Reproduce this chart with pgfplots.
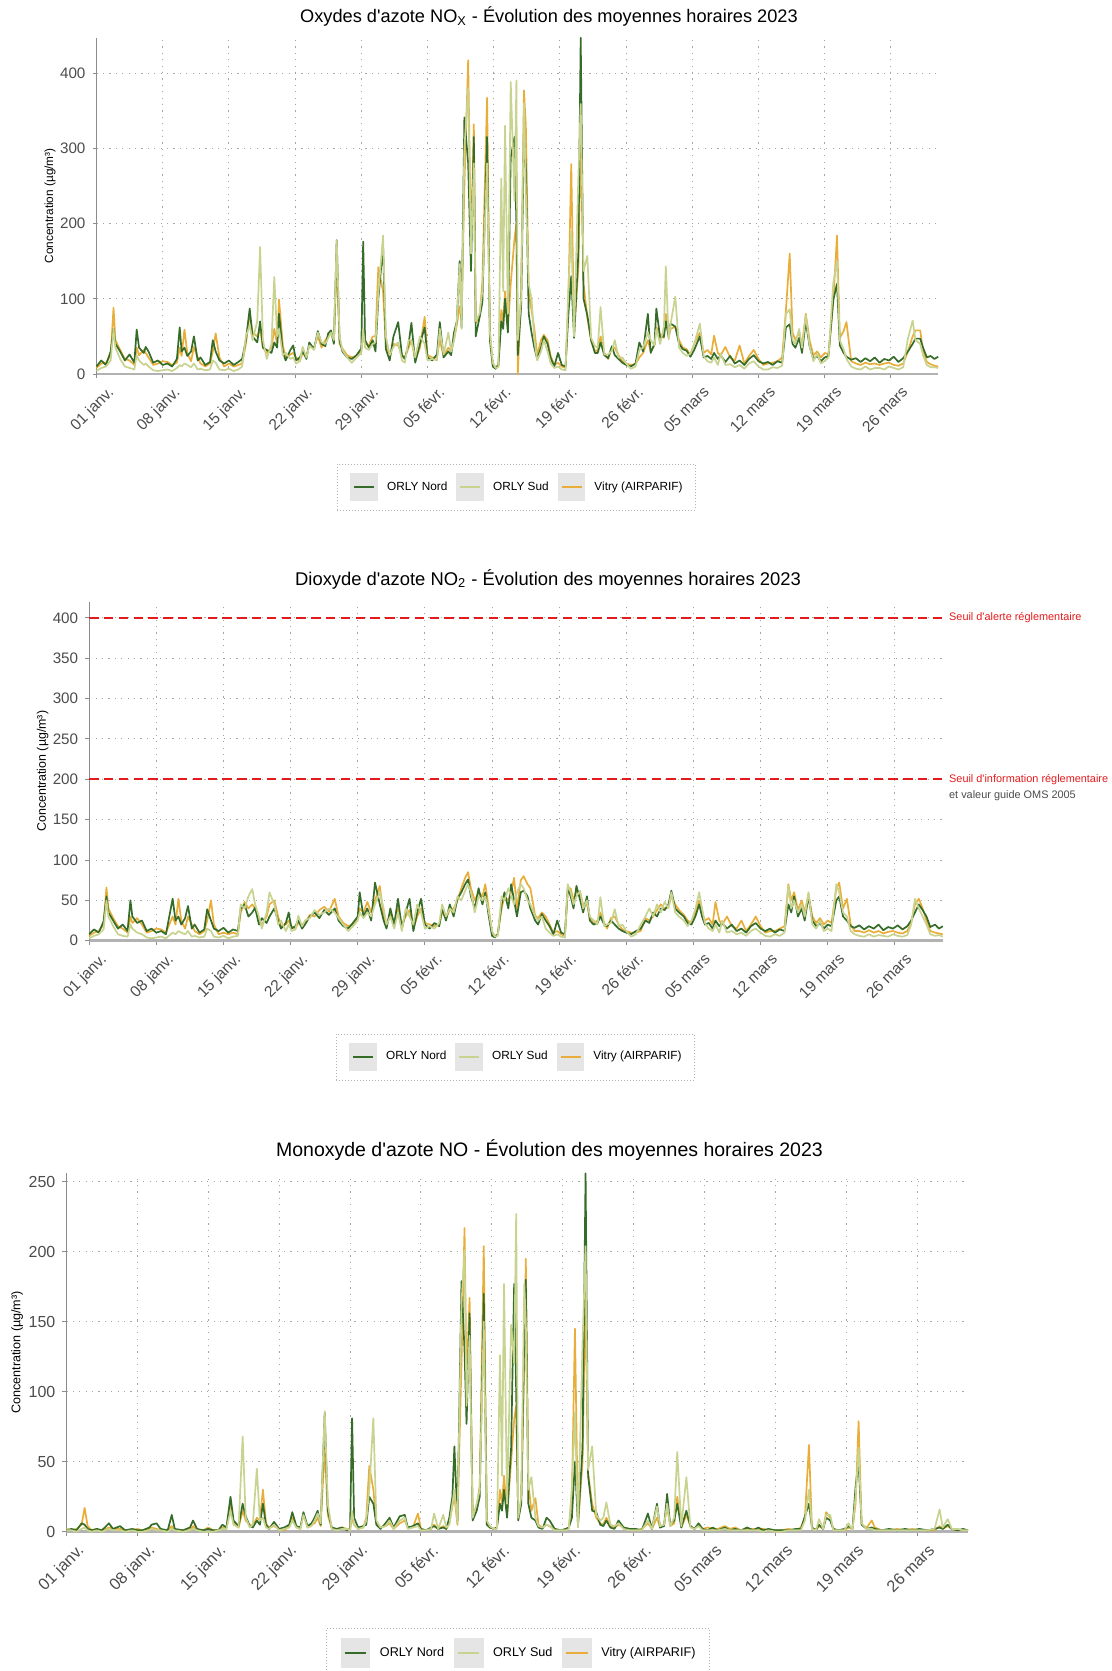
\documentclass[border=0pt]{standalone}
\usepackage{pgfplots}
\usepackage{pgfplotstable}
\pgfplotsset{compat=1.18}
\usepackage{fontspec}
\setmainfont{Liberation Sans}[Ligatures=TeXOff]
\definecolor{cnord}{RGB}{52,108,40}
\definecolor{csud}{RGB}{201,211,144}
\definecolor{cvitry}{RGB}{233,174,58}
\definecolor{cred}{RGB}{228,26,28}

% day  nord  sud  vitry
\pgfplotstableread{
d n s v
0.0 10 4 8
0.5 18 8 14
1.0 12 10 15
1.5 30 18 25
1.8 60 60 88
2.0 40 35 45
2.5 30 20 32
3.0 18 10 20
3.5 26 8 18
4.0 15 6 12
4.25 59 25 35
4.5 35 18 25
5.0 28 12 32
5.2 36 14 28
5.5 30 10 22
6.0 15 5 12
6.5 18 4 14
7.0 12 5 17
7.5 14 6 16
8.0 10 4 12
8.5 20 8 15
8.8 62 12 35
9.0 30 10 24
9.3 35 14 59
9.6 24 12 28
10.0 30 9 17
10.3 50 14 36
10.7 18 6 22
11.0 22 7 14
11.5 12 5 10
12.0 16 6 14
12.3 45 18 30
12.6 30 15 54
13.0 18 6 22
13.5 14 5 10
14.0 18 7 14
14.5 12 4 10
15.0 16 6 12
15.4 20 10 14
15.8 45 50 40
16.2 87 65 80
16.5 50 45 55
17.0 42 70 50
17.3 70 169 60
17.6 35 45 35
18.0 32 20 28
18.5 28 40 35
18.8 42 129 60
19.1 35 50 40
19.3 80 60 99
19.7 30 25 38
20.0 18 28 22
20.5 32 20 26
20.8 38 22 28
21.1 18 14 22
21.5 22 17 17
21.8 30 36 28
22.2 20 22 24
22.5 42 38 38
23.0 33 32 35
23.4 57 55 50
23.8 40 42 35
24.2 37 40 45
24.5 54 48 50
24.8 58 55 55
25.1 40 45 42
25.4 178 178 150
25.7 45 50 40
26.0 30 32 34
26.5 22 22 25
27.0 20 15 22
27.5 25 22 24
28.0 34 28 30
28.2 176 60 55
28.4 45 35 40
28.8 35 32 38
29.2 45 40 50
29.5 30 42 50
29.8 100 107 142
30.3 170 184 110
30.6 33 50 38
31.0 18 25 22
31.4 50 36 40
31.9 69 42 38
32.3 25 18 25
32.6 20 15 22
33.0 40 45 35
33.3 68 45 45
33.7 15 22 18
34.2 40 50 35
34.7 62 40 76
35.0 22 18 25
35.5 18 20 22
36.0 26 18 22
36.3 69 60 45
36.7 22 26 24
37.2 30 55 35
37.5 25 30 30
37.8 55 45 45
38.1 70 70 65
38.4 150 146 90
38.6 62 60 72
38.9 341 300 250
39.3 280 380 417
39.6 137 160 170
39.9 315 280 332
40.1 50 70 68
40.5 75 80 75
40.8 95 110 122
41.3 315 280 367
41.6 45 55 55
41.9 10 15 14
42.2 7 8 9
42.5 12 9 12
42.8 70 260 85
43.0 60 110 70
43.2 100 330 110
43.5 55 80 60
43.8 288 388 120
44.2 315 230 180
44.4 200 390 200
44.55 25 45 0
44.9 90 100 110
45.2 319 360 377
45.4 275 240 330
45.7 80 120 110
46.0 55 100 85
46.3 35 45 60
46.6 20 18 25
47.0 35 30 45
47.3 50 45 52
47.7 40 30 45
48.0 22 15 25
48.4 10 8 12
48.8 28 10 15
49.2 12 6 10
49.6 10 5 8
49.9 80 115 100
50.2 130 190 279
50.5 48 50 56
50.95 160 261 140
51.2 447 359 310
51.5 100 137 120
51.9 78 157 75
52.3 45 48 44
52.7 28 37 30
53.0 28 35 32
53.3 42 89 50
53.7 25 26 28
54.1 21 26 20
54.5 37 31 36
54.8 25 45 35
55.2 20 22 25
55.6 15 22 17
56.0 12 14 14
56.5 10 7 12
57.0 14 10 13
57.4 42 32 22
57.8 30 35 28
58.3 80 55 45
58.6 28 45 30
59.0 40 38 38
59.2 87 60 62
59.6 48 40 52
60.0 50 63 48
60.2 70 143 80
60.5 50 46 48
60.7 67 66 60
61.2 63 103 63
61.6 40 35 45
62.0 33 28 35
62.4 31 24 33
62.8 23 27 25
63.2 32 40 40
63.8 50 67 55
64.2 22 24 28
64.6 24 17 32
65.0 20 15 26
65.3 28 22 51
65.7 20 12 28
66.0 25 27 25
66.5 16 12 36
67.0 24 13 22
67.5 14 9 18
68.0 18 12 38
68.5 12 7 14
69.0 20 14 24
69.5 25 17 32
70.0 17 10 20
70.5 14 6 12
71.0 16 6 14
71.5 12 9 15
72.0 17 8 17
72.5 15 11 22
72.9 62 80 85
73.3 66 86 160
73.6 40 45 55
73.9 35 40 45
74.3 48 60 55
74.6 28 35 38
75.0 70 78 80
75.4 37 38 45
75.8 20 17 25
76.2 24 27 30
76.6 17 14 22
77.0 22 17 28
77.4 24 22 26
77.9 98 120 95
78.3 120 150 184
78.6 38 45 48
79.0 28 33 57
79.3 23 20 69
79.8 19 10 17
80.3 21 7 14
80.8 16 6 12
81.3 21 10 15
81.8 17 6 13
82.3 22 8 14
82.8 15 8 12
83.3 20 6 14
83.8 18 10 15
84.3 23 8 12
84.8 16 6 11
85.3 21 9 14
85.8 30 47 30
86.3 40 71 50
86.6 47 45 58
87.1 47 40 58
87.4 35 25 30
87.8 22 12 16
88.2 24 9 13
88.6 20 9 11
89.0 23 8 10
}\noxtable

\pgfplotstableread{
d n s v
0.0 8 3 6
0.5 14 6 10
1.0 10 8 12
1.5 24 14 20
1.8 55 50 66
2.0 35 30 40
2.5 25 18 28
3.0 15 8 18
3.5 20 6 15
4.0 12 5 10
4.3 50 20 30
4.5 30 15 22
5.0 22 10 28
5.5 25 8 20
6.0 12 4 10
6.5 15 3 12
7.0 10 4 15
7.5 12 5 14
8.0 8 3 10
8.7 52 10 30
9.0 25 8 20
9.3 30 12 52
9.6 20 10 25
10.0 28 8 15
10.3 43 12 30
10.7 15 5 20
11.0 20 6 12
11.5 10 4 8
12.0 14 5 12
12.3 39 15 25
12.7 25 12 50
13.0 15 5 20
13.5 12 4 8
14.0 16 6 10
14.5 10 3 8
15.0 14 5 10
15.5 12 6 8
15.8 40 45 35
16.2 45 40 48
16.6 30 55 40
17.0 35 64 45
17.3 41 45 40
17.7 20 30 25
18.0 28 15 20
18.5 22 35 30
18.8 30 60 45
19.3 40 45 50
19.7 25 20 30
20.0 15 25 18
20.5 22 12 20
20.8 35 20 25
21.1 15 12 18
21.5 18 14 15
21.8 25 31 22
22.2 15 18 20
22.5 20 25 22
23.0 30 28 32
23.5 35 38 30
24.0 28 32 38
24.5 38 35 42
25.0 32 40 36
25.6 40 35 52
26.0 25 28 30
26.5 18 20 22
27.0 15 12 18
27.5 22 18 20
28.0 30 25 28
28.2 60 35 40
28.6 30 28 35
29.0 40 35 48
29.4 25 30 35
29.8 72 45 50
30.3 45 60 68
30.7 25 40 30
31.0 15 20 18
31.4 40 30 35
31.8 20 15 22
32.2 52 35 40
32.6 15 12 20
33.0 35 40 30
33.4 52 30 38
33.8 12 20 15
34.2 35 45 30
34.6 52 35 40
35.0 20 15 22
35.5 15 18 20
36.0 22 15 18
36.5 18 22 20
36.8 40 45 35
37.2 25 30 28
37.6 45 40 38
38.0 30 35 40
38.4 52 55 50
38.8 60 50 65
39.2 70 62 78
39.5 76 70 85
39.8 55 60 65
40.2 40 35 50
40.6 65 55 60
41.0 45 50 55
41.3 60 55 70
41.6 35 40 45
42.0 6 12 10
42.3 4 5 6
42.6 8 6 8
43.0 45 55 40
43.3 60 50 55
43.7 40 65 50
44.0 70 55 60
44.3 50 45 78
44.6 30 60 40
45.0 60 70 75
45.3 62 65 80
45.7 55 50 70
46.0 40 45 65
46.5 25 30 31
46.8 20 25 28
47.2 33 30 35
47.6 25 15 30
48.0 18 10 20
48.4 8 6 10
48.8 25 8 12
49.2 10 5 8
49.6 8 4 6
49.9 66 70 60
50.2 55 60 65
50.5 40 45 50
50.8 68 55 62
51.2 50 62 58
51.5 35 40 45
51.9 55 50 45
52.2 25 30 28
52.6 20 25 22
53.0 22 20 25
53.3 30 54 35
53.7 20 18 22
54.0 18 20 15
54.4 25 22 28
54.8 20 39 30
55.2 15 18 20
55.6 12 20 14
56.0 10 12 12
56.5 8 5 10
57.0 12 8 10
57.5 15 20 12
58.0 25 30 28
58.4 22 40 25
58.8 35 30 30
59.2 30 45 38
59.6 40 35 45
60.0 38 48 40
60.4 45 40 42
60.7 62 60 55
61.1 40 35 45
61.5 35 30 38
62.0 30 25 32
62.4 22 18 25
62.8 20 25 22
63.2 30 39 35
63.6 45 60 50
63.9 30 40 35
64.2 20 22 25
64.6 22 15 28
65.0 15 12 20
65.3 25 20 48
65.7 18 10 25
66.0 22 25 20
66.5 15 10 30
67.0 20 12 18
67.5 12 8 15
68.0 15 10 25
68.5 10 6 12
69.0 18 12 20
69.5 22 15 30
70.0 15 10 18
70.5 12 6 10
71.0 15 5 12
71.5 10 8 12
72.0 14 6 15
72.5 12 10 18
72.9 45 68 70
73.2 35 40 50
73.5 55 50 60
73.9 30 35 38
74.3 40 45 50
74.6 25 30 35
75.0 55 60 58
75.4 25 20 30
75.8 18 15 22
76.2 22 25 28
76.6 15 12 20
77.0 20 15 25
77.4 18 12 22
77.9 50 70 65
78.2 55 60 72
78.6 30 35 40
79.0 25 30 52
79.4 18 12 20
79.8 16 8 12
80.3 19 6 12
80.8 14 5 10
81.3 18 8 13
81.8 15 5 10
82.3 20 7 12
82.8 13 6 9
83.3 17 5 11
83.8 15 8 12
84.3 19 6 10
84.8 14 5 9
85.3 18 7 12
85.7 25 20 22
86.1 35 52 45
86.5 45 40 52
86.9 38 30 40
87.3 30 20 25
87.7 17 8 12
88.2 20 6 10
88.6 15 7 9
89.0 18 5 8
}\notable

\pgfplotstableread{
d n s v
0.0 1 1 2
0.5 2 1 1
1.0 1 0 2
1.5 6 2 5
1.8 5 3 17
2.1 2 1 4
2.5 1 0 1
3.0 2 1 2
3.5 1 0 1
4.2 6 2 3
4.6 2 1 2
5.3 4 1 2
5.8 1 0 1
6.5 2 1 1
7.0 1 0 2
7.5 1 0 1
8.2 3 1 2
8.4 5 2 3
8.9 6 1 2
9.3 2 1 1
10.0 1 0 1
10.4 12 2 4
10.7 2 1 1
11.5 1 0 1
12.2 3 1 1
12.5 8 2 4
12.9 2 1 1
13.5 1 0 1
14.0 2 0 3
14.5 1 0 1
15.0 1 1 1
15.4 5 2 3
15.8 3 2 2
16.2 25 15 22
16.5 8 5 6
17.0 4 3 3
17.4 20 68 15
17.7 11 10 8
18.1 4 3 5
18.4 3 5 4
18.8 8 45 10
19.1 5 8 8
19.4 20 10 30
19.7 5 3 6
20.0 2 2 3
20.5 7 5 4
21.0 2 1 2
21.5 3 2 1
22.0 5 3 4
22.3 14 8 10
22.7 4 3 3
23.1 3 2 2
23.4 14 12 13
23.8 4 3 3
24.2 6 4 5
24.5 10 8 6
24.8 15 13 10
25.1 5 6 4
25.5 85 86 60
25.8 15 20 12
26.2 3 2 2
26.7 2 1 2
27.2 3 2 3
27.7 1 2 2
28.0 2 1 1
28.2 81 15 10
28.4 10 5 5
28.8 3 2 2
29.3 4 3 3
29.6 5 8 10
29.9 25 30 47
30.3 20 81 30
30.6 5 8 6
31.0 2 3 3
31.5 6 4 4
31.9 10 8 6
32.3 3 2 2
32.9 11 8 6
33.4 12 10 8
33.7 3 2 3
34.2 4 3 3
34.7 6 4 13
35.0 2 1 2
35.5 1 1 1
36.0 3 2 2
36.3 4 13 5
36.7 2 2 2
37.2 3 12 4
37.5 2 3 2
37.8 10 5 6
38.1 25 20 18
38.3 61 30 25
38.6 8 6 5
39.0 179 163 120
39.3 130 201 217
39.5 77 90 108
39.8 156 140 167
40.1 8 10 12
40.5 15 20 18
40.8 25 30 33
41.2 170 150 204
41.5 5 8 6
41.8 3 4 3
42.2 2 2 2
42.5 3 2 3
42.8 20 126 30
43.0 15 40 20
43.2 30 177 40
43.5 10 20 12
43.9 60 148 50
44.2 177 120 80
44.4 100 227 90
44.6 8 10 10
44.9 20 25 22
45.2 140 177 120
45.35 180 150 195
45.6 20 30 35
45.9 10 39 15
46.3 8 10 24
46.6 3 4 5
47.0 2 3 3
47.4 10 5 5
47.7 8 4 4
48.2 2 1 2
48.8 1 1 1
49.3 2 1 2
49.6 3 2 3
49.9 10 32 25
50.2 50 85 145
50.5 5 3 4
50.95 60 135 50
51.25 256 204 170
51.5 40 44 42
51.9 15 61 20
52.3 14 12 10
52.7 5 8 6
53.0 4 10 5
53.3 8 21 10
53.7 3 5 4
54.1 2 4 3
54.5 8 6 5
55.0 3 2 3
55.6 2 1 2
56.2 2 1 1
56.8 1 1 2
57.4 13 8 6
57.8 2 2 2
58.3 20 18 10
58.6 3 4 3
59.0 4 5 5
59.3 27 20 18
59.6 5 4 4
60.0 8 10 6
60.3 20 57 25
60.7 3 4 3
61.2 15 39 12
61.6 4 3 4
62.0 2 2 2
62.4 6 4 5
62.8 2 1 2
63.3 1 1 3
63.8 3 1 2
64.3 1 1 2
65.0 3 2 4
65.5 1 1 2
66.0 2 1 3
66.6 1 1 1
67.2 3 1 2
67.8 1 1 2
68.3 3 1 2
68.8 1 0 2
69.3 2 1 1
70.0 1 0 1
70.6 1 0 1
71.3 1 1 2
72.0 2 1 1
72.5 2 1 3
72.9 11 8 10
73.3 20 30 62
73.6 3 2 2
74.0 1 1 2
74.3 5 9 4
74.7 2 2 2
75.0 10 12 14
75.4 8 12 10
75.7 2 1 2
76.2 1 1 1
76.8 2 1 1
77.2 4 6 3
77.6 2 1 2
77.9 32 25 20
78.2 50 60 79
78.5 5 6 5
79.0 2 2 3
79.5 3 2 8
79.8 2 1 3
80.5 1 1 1
81.2 2 1 1
82.0 1 1 2
82.8 2 1 1
83.5 1 1 2
84.2 2 1 1
85.0 1 1 1
85.7 2 2 1
86.2 3 16 4
86.5 2 3 2
87.0 5 9 4
87.4 2 2 2
88.0 1 2 1
88.5 2 1 1
89.0 1 1 1
}\nomono

\pgfplotsset{
  common/.style={
    scale only axis, clip=false,
    xmin=0, xmax=89, ymin=0,
    axis x line*=bottom, axis y line*=left,
    x axis line style={draw=black!30, line width=1.4pt, -},
    y axis line style={draw=black!45, line width=0.5pt, -},
    tick align=outside, major tick length=2pt,
    tick style={draw=black!45, line width=0.5pt},
    xtick={0,7,...,84},
    xticklabels={01 janv.,08 janv.,15 janv.,22 janv.,29 janv.,05 févr.,12 févr.,19 févr.,26 févr.,05 mars,12 mars,19 mars,26 mars},
    grid=major,
    major grid style={draw=black!35, line width=0.5pt, dash pattern=on 0.6pt off 2.6pt},
    xticklabel style={rotate=45, anchor=north east, inner sep=0pt, text=black!70, yshift=-6pt, xshift=1pt},
    yticklabel style={text=black!70},
    /pgf/number format/assume math mode=true,
    ylabel={Concentration (µg/m³)},
    legend columns=3,
    legend style={draw=black!30, dash pattern=on 0.5pt off 1pt, line width=0.4pt,
      fill=white, anchor=center, inner xsep=6.5pt, inner ysep=4.5pt,
      cells={anchor=west}, nodes={inner sep=0pt},
      /tikz/every even column/.append style={column sep=4.5pt},
      /tikz/every odd column/.append style={column sep=4.5pt}},
  },
  ser/.style={no marks, line width=0.85pt, line join=round},
}

\begin{document}
\begin{tikzpicture}
\useasboundingbox (0,0) rectangle (556pt,-835.5pt);

% ---------------- Panel 1 : NOx
\begin{axis}[common,
  at={(48.25pt,-187pt)}, anchor=south west,
  width=420.85pt, height=168.15pt, ymax=447,
  ytick={0,100,200,300,400},
  yticklabel style={font=\fontsize{7.6}{8.5}\selectfont},
  xticklabel style={font=\fontsize{7.8}{8.5}\selectfont},
  title={Oxydes d'azote NO\textsubscript{X} - Évolution des moyennes horaires 2023},
  title style={at={(axis description cs:0.5376,1.0446)}, anchor=base, yshift=-6pt, font=\fontsize{9.1}{11}\selectfont},
  ylabel style={at={(axis description cs:-0.05525,0.5)}, anchor=center, font=\fontsize{5.9}{7}\selectfont},
  legend style={at={(axis description cs:0.499,-0.3369)}, font=\fontsize{5.9}{7}\selectfont},
  legend image code/.code={\fill[black!10] (0pt,-6.5pt) rectangle (13pt,6.5pt); \draw[#1, solid] (1.5pt,0pt) -- (11.5pt,0pt);},
]
\addlegendimage{cnord, line width=0.9pt}
\addlegendentry{ORLY Nord}
\addlegendimage{csud, line width=0.9pt}
\addlegendentry{ORLY Sud}
\addlegendimage{cvitry, line width=0.9pt}
\addlegendentry{Vitry (AIRPARIF)}
\addplot[ser, cvitry, forget plot] table[x=d, y=v] {\noxtable};
\addplot[ser, cnord, forget plot] table[x=d, y=n] {\noxtable};
\addplot[ser, csud, forget plot] table[x=d, y=s] {\noxtable};
\end{axis}

% ---------------- Panel 2 : NO2
\begin{axis}[common,
  at={(44.6pt,-470.35pt)}, anchor=south west,
  width=426.8pt, height=169.45pt, ymax=420,
  ytick={0,50,...,400},
  yticklabel style={font=\fontsize{7.6}{8.5}\selectfont},
  xticklabel style={font=\fontsize{7.8}{8.5}\selectfont},
  title={Dioxyde d'azote NO\textsubscript{2} - Évolution des moyennes horaires 2023},
  title style={at={(axis description cs:0.5375,1.0496)}, anchor=base, yshift=-6pt, font=\fontsize{9.2}{11}\selectfont},
  ylabel style={at={(axis description cs:-0.0546,0.5)}, anchor=center, font=\fontsize{6.2}{7}\selectfont},
  legend style={at={(axis description cs:0.4994,-0.3432)}, font=\fontsize{5.9}{7}\selectfont},
  legend image code/.code={\fill[black!10] (0pt,-6.5pt) rectangle (13pt,6.5pt); \draw[#1, solid] (1.5pt,0pt) -- (11.5pt,0pt);},
]
\addlegendimage{cnord, line width=0.9pt}
\addlegendentry{ORLY Nord}
\addlegendimage{csud, line width=0.9pt}
\addlegendentry{ORLY Sud}
\addlegendimage{cvitry, line width=0.9pt}
\addlegendentry{Vitry (AIRPARIF)}
\addplot[ser, cvitry, forget plot] table[x=d, y=v] {\notable};
\addplot[ser, cnord, forget plot] table[x=d, y=n] {\notable};
\addplot[ser, csud, forget plot] table[x=d, y=s] {\notable};
\addplot[forget plot, cred, line width=1pt, dash pattern=on 4.7pt off 2.7pt] coordinates {(0,400) (89,400)};
\addplot[forget plot, cred, line width=1pt, dash pattern=on 4.7pt off 2.7pt] coordinates {(0,200) (89,200)};
\node[anchor=west, inner sep=0pt, xshift=3pt, text=cred, font=\fontsize{5.45}{6.5}\selectfont] at (axis cs:89,400) {Seuil d'alerte réglementaire};
\node[anchor=west, inner sep=0pt, xshift=3pt, text=cred, font=\fontsize{5.45}{6.5}\selectfont] at (axis cs:89,200) {Seuil d'information réglementaire};
\node[anchor=west, inner sep=0pt, xshift=3pt, text=black!70, font=\fontsize{5.45}{6.5}\selectfont] at (axis cs:89,180) {et valeur guide OMS 2005};
\end{axis}

% ---------------- Panel 3 : NO
\begin{axis}[common,
  at={(33.2pt,-765.85pt)}, anchor=south west,
  width=450.8pt, height=179.2pt, ymax=256,
  ytick={0,50,...,250},
  yticklabel style={font=\fontsize{8}{9}\selectfont},
  xticklabel style={font=\fontsize{8.2}{9}\selectfont},
  title={Monoxyde d'azote NO - Évolution des moyennes horaires 2023},
  title style={at={(axis description cs:0.5358,1.0463)}, anchor=base, yshift=-6pt, font=\fontsize{9.75}{11.5}\selectfont},
  ylabel style={at={(axis description cs:-0.0548,0.5)}, anchor=center, font=\fontsize{6.3}{7.5}\selectfont},
  legend style={at={(axis description cs:0.5009,-0.3385)}, font=\fontsize{6.3}{7.5}\selectfont,
    inner xsep=7pt, inner ysep=4.8pt,
    /tikz/every even column/.append style={column sep=4.8pt},
    /tikz/every odd column/.append style={column sep=4.8pt}},
  legend image code/.code={\fill[black!10] (0pt,-7pt) rectangle (14pt,7pt); \draw[#1, solid] (1.6pt,0pt) -- (12.4pt,0pt);},
]
\addlegendimage{cnord, line width=0.9pt}
\addlegendentry{ORLY Nord}
\addlegendimage{csud, line width=0.9pt}
\addlegendentry{ORLY Sud}
\addlegendimage{cvitry, line width=0.9pt}
\addlegendentry{Vitry (AIRPARIF)}
\addplot[ser, cvitry, forget plot] table[x=d, y=v] {\nomono};
\addplot[ser, cnord, forget plot] table[x=d, y=n] {\nomono};
\addplot[ser, csud, forget plot] table[x=d, y=s] {\nomono};
\end{axis}
\end{tikzpicture}
\end{document}
